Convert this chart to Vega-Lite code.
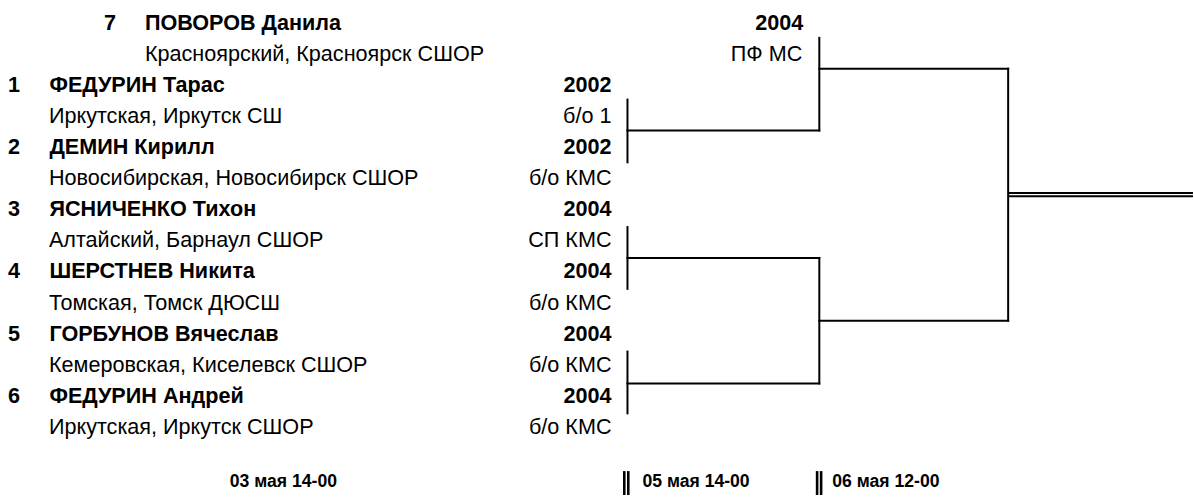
{
  "$schema": "https://vega.github.io/schema/vega-lite/v6.json",
  "width": 1194,
  "height": 497,
  "autosize": {"type": "fit", "contains": "padding"},
  "padding": 0,
  "background": "white",
  "config": {"view": {"stroke": null}},
  "datasets": {
    "texts": [
      {"label": "7", "x": 104, "y": 24, "kind": "boldLeft"},
      {"label": "ПОВОРОВ Данила", "x": 145, "y": 24, "kind": "boldLeft"},
      {"label": "Красноярский, Красноярск СШОР", "x": 145, "y": 55.2, "kind": "normalLeft"},
      {"label": "2004", "x": 804, "y": 24, "kind": "boldRight"},
      {"label": "ПФ МС", "x": 803, "y": 55.2, "kind": "normalRight"},
      {"label": "1", "x": 8, "y": 86.4, "kind": "boldLeft"},
      {"label": "ФЕДУРИН Тарас", "x": 49.5, "y": 86.4, "kind": "boldLeft"},
      {"label": "Иркутская, Иркутск СШ", "x": 49, "y": 117.6, "kind": "normalLeft"},
      {"label": "2002", "x": 612, "y": 86.4, "kind": "boldRight"},
      {"label": "б/о 1", "x": 612, "y": 117.6, "kind": "normalRight"},
      {"label": "2", "x": 8, "y": 148.8, "kind": "boldLeft"},
      {"label": "ДЕМИН Кирилл", "x": 49.5, "y": 148.8, "kind": "boldLeft"},
      {"label": "Новосибирская, Новосибирск СШОР", "x": 49, "y": 180, "kind": "normalLeft"},
      {"label": "2002", "x": 612, "y": 148.8, "kind": "boldRight"},
      {"label": "б/о КМС", "x": 612, "y": 180, "kind": "normalRight"},
      {"label": "3", "x": 8, "y": 211.2, "kind": "boldLeft"},
      {"label": "ЯСНИЧЕНКО Тихон", "x": 49.5, "y": 211.2, "kind": "boldLeft"},
      {"label": "Алтайский, Барнаул СШОР", "x": 49, "y": 242.4, "kind": "normalLeft"},
      {"label": "2004", "x": 612, "y": 211.2, "kind": "boldRight"},
      {"label": "СП КМС", "x": 612, "y": 242.4, "kind": "normalRight"},
      {"label": "4", "x": 8, "y": 273.6, "kind": "boldLeft"},
      {"label": "ШЕРСТНЕВ Никита", "x": 49.5, "y": 273.6, "kind": "boldLeft"},
      {"label": "Томская, Томск ДЮСШ", "x": 49, "y": 304.8, "kind": "normalLeft"},
      {"label": "2004", "x": 612, "y": 273.6, "kind": "boldRight"},
      {"label": "б/о КМС", "x": 612, "y": 304.8, "kind": "normalRight"},
      {"label": "5", "x": 8, "y": 336, "kind": "boldLeft"},
      {"label": "ГОРБУНОВ Вячеслав", "x": 49.5, "y": 336, "kind": "boldLeft"},
      {"label": "Кемеровская, Киселевск СШОР", "x": 49, "y": 367.2, "kind": "normalLeft"},
      {"label": "2004", "x": 612, "y": 336, "kind": "boldRight"},
      {"label": "б/о КМС", "x": 612, "y": 367.2, "kind": "normalRight"},
      {"label": "6", "x": 8, "y": 398.4, "kind": "boldLeft"},
      {"label": "ФЕДУРИН Андрей", "x": 49.5, "y": 398.4, "kind": "boldLeft"},
      {"label": "Иркутская, Иркутск СШОР", "x": 49, "y": 429.6, "kind": "normalLeft"},
      {"label": "2004", "x": 612, "y": 398.4, "kind": "boldRight"},
      {"label": "б/о КМС", "x": 612, "y": 429.6, "kind": "normalRight"}
    ],
    "dates": [
      {"label": "03 мая 14-00", "x": 230, "y": 484},
      {"label": "05 мая 14-00", "x": 643, "y": 484},
      {"label": "06 мая 12-00", "x": 833, "y": 484}
    ],
    "lines": [
      {"x": 628, "x2": 628, "y": 100, "y2": 163},
      {"x": 628, "x2": 820, "y": 131, "y2": 131},
      {"x": 628, "x2": 628, "y": 228, "y2": 290},
      {"x": 628, "x2": 820, "y": 259, "y2": 259},
      {"x": 628, "x2": 628, "y": 353, "y2": 415},
      {"x": 628, "x2": 820, "y": 385, "y2": 385},
      {"x": 820, "x2": 820, "y": 38, "y2": 131},
      {"x": 820, "x2": 1009, "y": 69, "y2": 69},
      {"x": 820, "x2": 820, "y": 259, "y2": 385},
      {"x": 820, "x2": 1009, "y": 322, "y2": 322},
      {"x": 1009, "x2": 1009, "y": 69, "y2": 322}
    ],
    "final": [
      {"x": 1009, "x2": 1194, "y": 193.7, "y2": 193.7},
      {"x": 1009, "x2": 1194, "y": 197, "y2": 197}
    ],
    "bars": [
      {"x": 624.8, "x2": 624.8, "y": 473, "y2": 497},
      {"x": 628.8, "x2": 628.8, "y": 473, "y2": 497},
      {"x": 817.8, "x2": 817.8, "y": 473, "y2": 497},
      {"x": 821.8, "x2": 821.8, "y": 473, "y2": 497}
    ]
  },
  "layer": [
    {
      "data": {"name": "lines"},
      "mark": {"type": "rule", "color": "black", "strokeWidth": 2, "strokeCap": "square"},
      "encoding": {
        "x": {"field": "x", "type": "quantitative", "scale": {"domain": [0, 1194], "nice": false, "zero": false}, "axis": null},
        "x2": {"field": "x2"},
        "y": {"field": "y", "type": "quantitative", "scale": {"domain": [0, 497], "nice": false, "zero": false, "reverse": true}, "axis": null},
        "y2": {"field": "y2"}
      }
    },
    {
      "data": {"name": "final"},
      "mark": {"type": "rule", "color": "black", "strokeWidth": 2},
      "encoding": {
        "x": {"field": "x", "type": "quantitative", "axis": null},
        "x2": {"field": "x2"},
        "y": {"field": "y", "type": "quantitative", "axis": null},
        "y2": {"field": "y2"}
      }
    },
    {
      "data": {"name": "bars"},
      "mark": {"type": "rule", "color": "black", "strokeWidth": 2.6},
      "encoding": {
        "x": {"field": "x", "type": "quantitative", "axis": null},
        "x2": {"field": "x2"},
        "y": {"field": "y", "type": "quantitative", "axis": null},
        "y2": {"field": "y2"}
      }
    },
    {
      "data": {"name": "texts"},
      "transform": [{"filter": "datum.kind === 'boldLeft'"}],
      "mark": {"type": "text", "align": "left", "baseline": "middle", "font": "Liberation Sans", "fontSize": 21.6, "fontWeight": "bold", "color": "black"},
      "encoding": {
        "x": {"field": "x", "type": "quantitative", "axis": null},
        "y": {"field": "y", "type": "quantitative", "axis": null},
        "text": {"field": "label"}
      }
    },
    {
      "data": {"name": "texts"},
      "transform": [{"filter": "datum.kind === 'normalLeft'"}],
      "mark": {"type": "text", "align": "left", "baseline": "middle", "font": "Liberation Sans", "fontSize": 21.6, "color": "black"},
      "encoding": {
        "x": {"field": "x", "type": "quantitative", "axis": null},
        "y": {"field": "y", "type": "quantitative", "axis": null},
        "text": {"field": "label"}
      }
    },
    {
      "data": {"name": "texts"},
      "transform": [{"filter": "datum.kind === 'boldRight'"}],
      "mark": {"type": "text", "align": "right", "baseline": "middle", "font": "Liberation Sans", "fontSize": 21.6, "fontWeight": "bold", "color": "black"},
      "encoding": {
        "x": {"field": "x", "type": "quantitative", "axis": null},
        "y": {"field": "y", "type": "quantitative", "axis": null},
        "text": {"field": "label"}
      }
    },
    {
      "data": {"name": "texts"},
      "transform": [{"filter": "datum.kind === 'normalRight'"}],
      "mark": {"type": "text", "align": "right", "baseline": "middle", "font": "Liberation Sans", "fontSize": 21.6, "color": "black"},
      "encoding": {
        "x": {"field": "x", "type": "quantitative", "axis": null},
        "y": {"field": "y", "type": "quantitative", "axis": null},
        "text": {"field": "label"}
      }
    },
    {
      "data": {"name": "dates"},
      "mark": {"type": "text", "align": "left", "baseline": "middle", "font": "Liberation Sans", "fontSize": 17.6, "fontWeight": "bold", "color": "black"},
      "encoding": {
        "x": {"field": "x", "type": "quantitative", "axis": null},
        "y": {"field": "y", "type": "quantitative", "axis": null},
        "text": {"field": "label"}
      }
    }
  ]
}
